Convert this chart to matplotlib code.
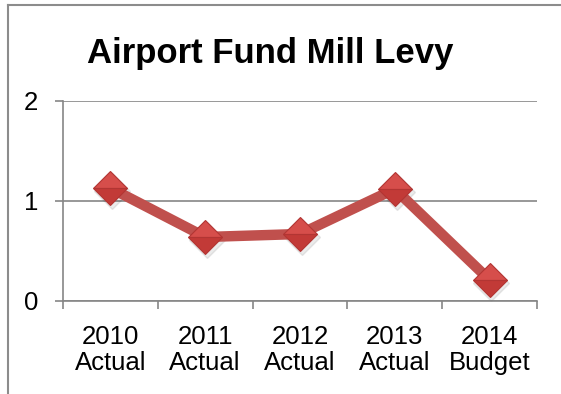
import matplotlib.pyplot as plt
import numpy as np
from matplotlib.lines import Line2D

plt.rcParams['font.family'] = ['Liberation Sans', 'DejaVu Sans']

years = ['2010\nActual', '2011\nActual', '2012\nActual', '2013\nActual', '2014\nBudget']
levy = [1.13, 0.64, 0.67, 1.12, 0.21]
yticks = [0, 1, 2]

fig = plt.figure(figsize=(5.61, 3.94), dpi=100)
ax = fig.add_axes([63 / 561, 1 - 301 / 394, (537 - 63) / 561, 200 / 394])

x = np.arange(len(years))

# soft shadow under the markers
ax.plot(x + 0.02, np.array(levy) - 0.03, linestyle='none', marker='D', ms=18,
        color='#000000', alpha=0.08, zorder=2)
ax.plot(x, levy, color='#C0504D', lw=7.5, solid_joinstyle='round', zorder=3)
# bevelled diamond: slightly lighter top half
ax.plot(x, levy, linestyle='none', marker='D', ms=17, fillstyle='top',
        markerfacecolor='#D64E4B', markerfacecoloralt='#C23A37',
        markeredgecolor='#B23533', markeredgewidth=0.8, zorder=4)

ax.set_xlim(-0.5, len(years) - 0.5)
ax.set_ylim(0, 2)

ax.set_yticks(yticks)
ax.set_yticklabels([str(v) for v in yticks])
ax.yaxis.grid(True, color='#868686', lw=1.2)
ax.set_axisbelow(True)

ax.set_xticks(np.arange(len(years) + 1) - 0.5)
ax.set_xticklabels([])
ax.set_xticks(x, minor=True)
ax.set_xticklabels(years, minor=True, linespacing=1.1)

ax.tick_params(axis='y', length=6, width=1.2, color='#868686', pad=12, labelsize=18.5)
ax.tick_params(axis='x', which='major', length=6, width=1.2, color='#868686')
ax.tick_params(axis='x', which='minor', length=0, pad=17, labelsize=18.5)

for side in ['top', 'right']:
    ax.spines[side].set_visible(False)
for side in ['left', 'bottom']:
    ax.spines[side].set_color('#868686')
    ax.spines[side].set_linewidth(1.2)

fig.text(270 / 561, 1 - 63 / 394, 'Airport Fund Mill Levy', ha='center',
         va='baseline', fontsize=25, fontweight='bold')

# chart frame (top and left edges)
fig.add_artist(Line2D([8 / 561, 1], [1 - 5 / 394, 1 - 5 / 394],
                      transform=fig.transFigure, color='#8C8C8C', lw=1.5))
fig.add_artist(Line2D([8 / 561, 8 / 561], [0, 1 - 5 / 394],
                      transform=fig.transFigure, color='#8C8C8C', lw=1.5))

fig.savefig('out.png', dpi=100)
